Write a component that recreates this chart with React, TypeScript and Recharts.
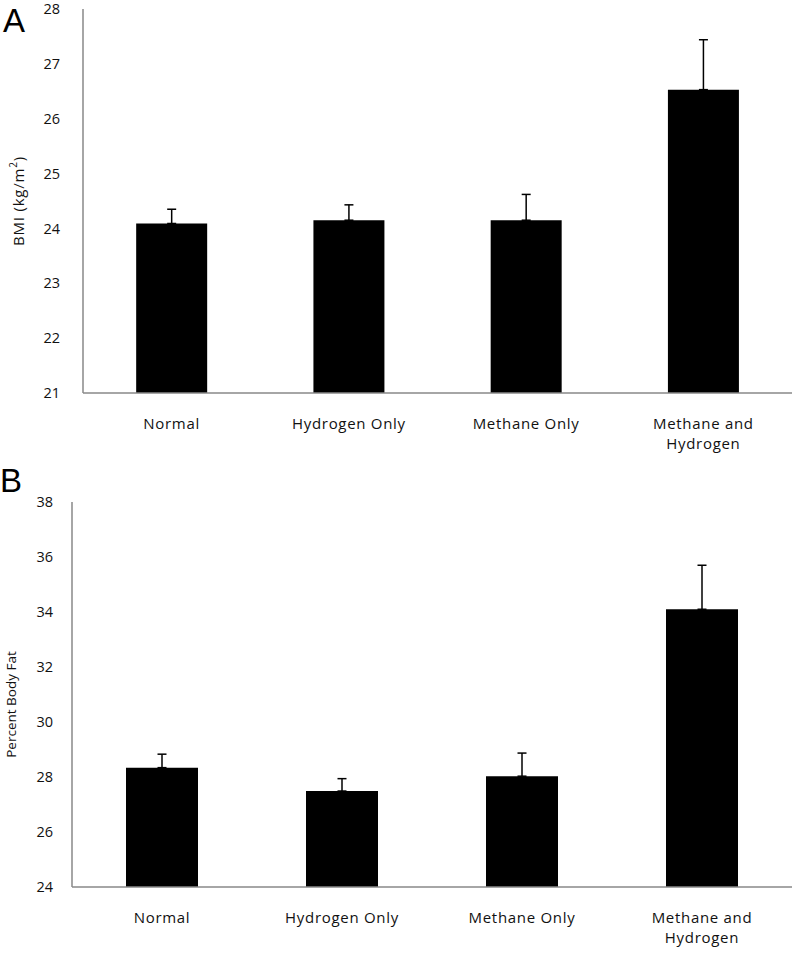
import React from 'react';
import { BarChart, Bar, XAxis, YAxis, ErrorBar, Label, Text } from 'recharts';

const categories = ['Normal', 'Hydrogen Only', 'Methane Only', 'Methane and Hydrogen'];

const bmiValues = [24.09, 24.15, 24.15, 26.53];
const bmiErrors = [0.26, 0.28, 0.47, 0.91];
const bmiTicks = [21, 22, 23, 24, 25, 26, 27, 28];

const fatValues = [28.34, 27.49, 28.03, 34.1];
const fatErrors = [0.49, 0.45, 0.84, 1.6];
const fatTicks = [24, 26, 28, 30, 32, 34, 36, 38];

const FONT = '"Open Sans", "Noto Sans", sans-serif';
const AXIS = '#888888';
const TEXT = '#111111';

const bmiData = categories.map((name, i) => ({ name, value: bmiValues[i], err: [0, bmiErrors[i]] }));
const fatData = categories.map((name, i) => ({ name, value: fatValues[i], err: [0, fatErrors[i]] }));

const CategoryTick = (props: any) => {
  const { x, y, payload } = props;
  return (
    <Text
      x={x}
      y={y + 25}
      width={140}
      textAnchor="middle"
      verticalAnchor="start"
      lineHeight={20}
      fontSize={15}
      fontFamily={FONT}
      fill={TEXT}
      style={{ letterSpacing: 0.7 }}
    >
      {payload.value}
    </Text>
  );
};

const yTickStyle = { fontSize: 14.5, fontFamily: FONT, fill: TEXT };
const letterStyle: React.CSSProperties = {
  position: 'absolute',
  fontSize: 33,
  lineHeight: '33px',
  fontFamily: '"Liberation Sans", Arial, sans-serif',
};

const App: React.FC = () => {
  return (
    <div style={{ position: 'absolute', left: 0, top: 0, width: 800, height: 953, background: '#fff' }}>
      <div style={{ ...letterStyle, left: 3, top: 4 }}>A</div>
      <div style={{ ...letterStyle, left: 0, top: 464 }}>B</div>

      <div style={{ position: 'absolute', left: 0, top: 0 }}>
        <BarChart width={800} height={460} data={bmiData} margin={{ top: 9, right: 8, bottom: 7, left: 0 }} barCategoryGap="30%">
          <XAxis dataKey="name" tick={<CategoryTick />} tickLine={false} tickSize={0} tickMargin={0} interval={0} height={60}
            axisLine={{ stroke: AXIS, strokeWidth: 1.5 }} />
          <YAxis domain={[21, 28]} ticks={bmiTicks} width={83} tickLine={false} tickSize={0} tickMargin={23}
            tick={yTickStyle} axisLine={{ stroke: AXIS, strokeWidth: 1.5 }} allowDataOverflow>
            <Label
              content={(p: any) => {
                const cy = p.viewBox.y + p.viewBox.height / 2;
                return (
                  <text x={20} y={cy} transform={`rotate(-90 20 ${cy})`} textAnchor="middle" dominantBaseline="middle"
                    fontSize={15} fontFamily={FONT} fill={TEXT} style={{ letterSpacing: 0.8 }}>
                    BMI (kg/m<tspan dy={-6} fontSize={10}>2</tspan><tspan dy={6}>)</tspan>
                  </text>
                );
              }}
            />
          </YAxis>
          <Bar dataKey="value" fill="#000" isAnimationActive={false}>
            <ErrorBar dataKey="err" direction="y" width={4.5} stroke="#000" strokeWidth={1.5} isAnimationActive={false} />
          </Bar>
        </BarChart>
      </div>

      <div style={{ position: 'absolute', left: 0, top: 470 }}>
        <BarChart width={800} height={483} data={fatData} margin={{ top: 32, right: 8, bottom: 6, left: 0 }} barCategoryGap="30%">
          <XAxis dataKey="name" tick={<CategoryTick />} tickLine={false} tickSize={0} tickMargin={0} interval={0} height={60}
            axisLine={{ stroke: AXIS, strokeWidth: 1.5 }} />
          <YAxis domain={[24, 38]} ticks={fatTicks} width={72} tickLine={false} tickSize={0} tickMargin={19}
            tick={yTickStyle} axisLine={{ stroke: AXIS, strokeWidth: 1.5 }} allowDataOverflow>
            <Label
              content={(p: any) => {
                const cy = p.viewBox.y + p.viewBox.height / 2 + 10;
                return (
                  <text x={12} y={cy} transform={`rotate(-90 12 ${cy})`} textAnchor="middle" dominantBaseline="middle"
                    fontSize={13.5} fontFamily={FONT} fill={TEXT}>
                    Percent Body Fat
                  </text>
                );
              }}
            />
          </YAxis>
          <Bar dataKey="value" fill="#000" isAnimationActive={false}>
            <ErrorBar dataKey="err" direction="y" width={4.5} stroke="#000" strokeWidth={1.5} isAnimationActive={false} />
          </Bar>
        </BarChart>
      </div>
    </div>
  );
};

export default App;
